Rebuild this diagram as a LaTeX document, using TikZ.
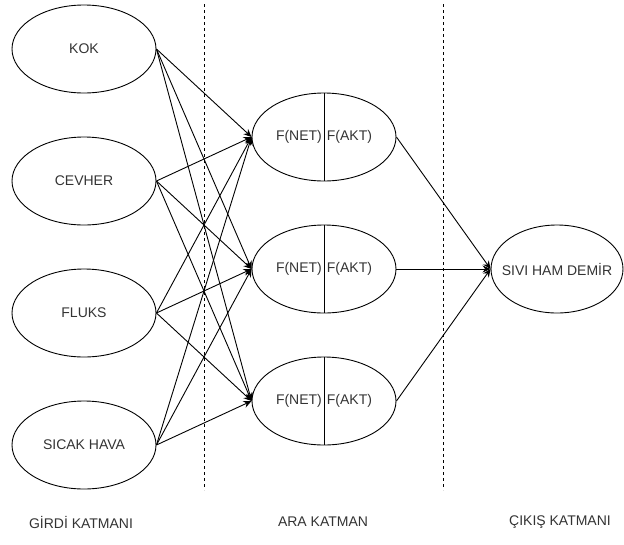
\documentclass[tikz,border=0pt]{standalone}
\usepackage{fontspec}
\setmainfont{Liberation Sans}
\usetikzlibrary{shapes.geometric, arrows.meta}

\begin{document}
\begin{tikzpicture}[
  x=1pt, y=-1pt,
  font=\fontsize{14}{16}\selectfont,
  >={Stealth[length=8pt, width=7pt]},
  neuron/.style={
    draw, ellipse, line width=0.9pt,
    minimum width=144pt, minimum height=88pt,
    inner sep=0pt, text=black!80
  },
  layer/.style={text=black!80},
  link/.style={->, line width=0.9pt},
  sep/.style={dash pattern=on 3pt off 3pt, line width=0.9pt}
]
\useasboundingbox (0,0) rectangle (624,544);

% input layer
\node[neuron] (kok) at (84,49) {KOK};
\node[neuron] (cevher) at (84,181) {CEVHER};
\node[neuron] (fluks) at (84,313) {FLUKS};
\node[neuron] (hava) at (84,445) {SICAK HAVA};

% hidden layer
\node[neuron] (h1) at (324,137) {F(NET)\hspace{5pt}F(AKT)};
\node[neuron] (h2) at (324,269) {F(NET)\hspace{5pt}F(AKT)};
\node[neuron] (h3) at (324,401) {F(NET)\hspace{5pt}F(AKT)};
\foreach \h in {h1,h2,h3}
  \draw[line width=0.9pt] (\h.north) -- (\h.south);

% output layer
\node[neuron, minimum width=132pt] (out) at (557,269) {\makebox[0pt]{SIVI HAM DEMİR}};

% layer borders
\coordinate (sepA top) at (204,4);
\coordinate (sepA bot) at (204,490);
\coordinate (sepB top) at (443,4);
\coordinate (sepB bot) at (443,490);
\draw[sep] (sepA top) -- (sepA bot);
\draw[sep] (sepB top) -- (sepB bot);

% connections
\foreach \i in {kok,cevher,fluks,hava}
  \foreach \h in {h1,h2,h3}
    \draw[link] (\i.east) -- (\h.west);
\foreach \h in {h1,h2,h3}
  \draw[link] (\h.east) -- (out.west);

% layer names
\node[layer] (girdi) at (81,522) {GİRDİ KATMANI};
\node[layer] (ara) at (323,522) {ARA KATMAN};
\node[layer] (cikis) at (560,522) {ÇIKIŞ KATMANI};

\end{tikzpicture}
\end{document}
